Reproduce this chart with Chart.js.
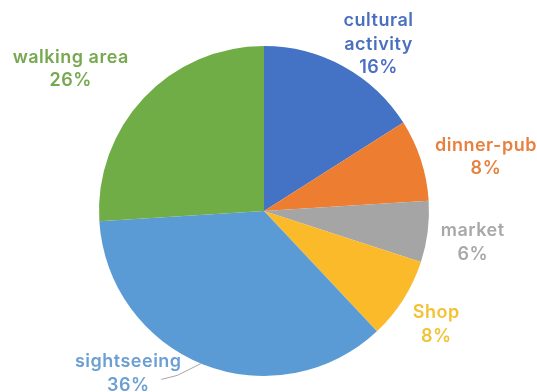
<!DOCTYPE html>
<html>
<head>
<meta charset="utf-8">
<script src="https://cdn.jsdelivr.net/npm/chart.js@4"></script>
<style>
  html, body { margin: 0; padding: 0; background: #fff; }
  #wrap { width: 537px; height: 392px; position: relative; }
</style>
</head>
<body>
<div id="wrap"><canvas id="pie"></canvas></div>
<script>
const categories = ['cultural activity', 'dinner-pub', 'market', 'Shop', 'sightseeing', 'walking area'];
const shares = [16, 8, 6, 8, 36, 26];
const sliceColors = ['#4472C4', '#ED7D31', '#A5A5A5', '#FBBA2A', '#5B9BD5', '#70AD47'];
const textColors = ['#4A6FC0', '#E8803F', '#A8A8A8', '#F2C234', '#6B9FD2', '#76A84F'];

// label lines per slice and where each block sits relative to the slice's outer mid point
const labelLines = [['cultural', 'activity'], ['dinner-pub'], ['market'], ['Shop'], ['sightseeing'], ['walking area']];
const labelShift = [[35, -22], [65, -3], [45, 11], [33, 25], [-75, 9], [-73, -29]];

const LINE_H = 23.5;

const sliceLabels = {
    id: 'sliceLabels',
    afterDatasetsDraw(chart) {
        const ctx = chart.ctx;
        const meta = chart.getDatasetMeta(0);
        ctx.save();
        ctx.font = '600 18px Inter, "DejaVu Sans", sans-serif';
        ctx.letterSpacing = '0.5px';
        ctx.textAlign = 'center';
        ctx.textBaseline = 'middle';
        meta.data.forEach((arc, i) => {
            const mid = (arc.startAngle + arc.endAngle) / 2;
            const ax = arc.x + Math.cos(mid) * arc.outerRadius;
            const ay = arc.y + Math.sin(mid) * arc.outerRadius;
            const cx = ax + labelShift[i][0];
            const cy = ay + labelShift[i][1];
            const lines = labelLines[i].concat([shares[i] + '%']);
            const top = cy - (lines.length - 1) * LINE_H / 2;

            // sightseeing sits away from its slice, so it gets a leader line
            if (i === 4) {
                ctx.strokeStyle = '#A6A6A6';
                ctx.lineWidth = 1;
                ctx.beginPath();
                ctx.moveTo(ax - 2, ay - 1);
                ctx.lineTo(cx + 49, cy + 2);
                ctx.lineTo(cx + 33, cy + 6);
                ctx.stroke();
            }

            ctx.fillStyle = textColors[i];
            lines.forEach((t, k) => ctx.fillText(t, cx, top + k * LINE_H));
        });
        ctx.restore();
    }
};

new Chart(document.getElementById('pie'), {
    type: 'pie',
    data: {
        labels: categories,
        datasets: [{
            data: shares,
            backgroundColor: sliceColors,
            borderWidth: 0
        }]
    },
    options: {
        responsive: true,
        maintainAspectRatio: false,
        animation: false,
        layout: { padding: { left: 99, right: 108, top: 46, bottom: 16 } },
        plugins: {
            legend: { display: false },
            tooltip: { enabled: false }
        }
    },
    plugins: [sliceLabels]
});
</script>
</body>
</html>
